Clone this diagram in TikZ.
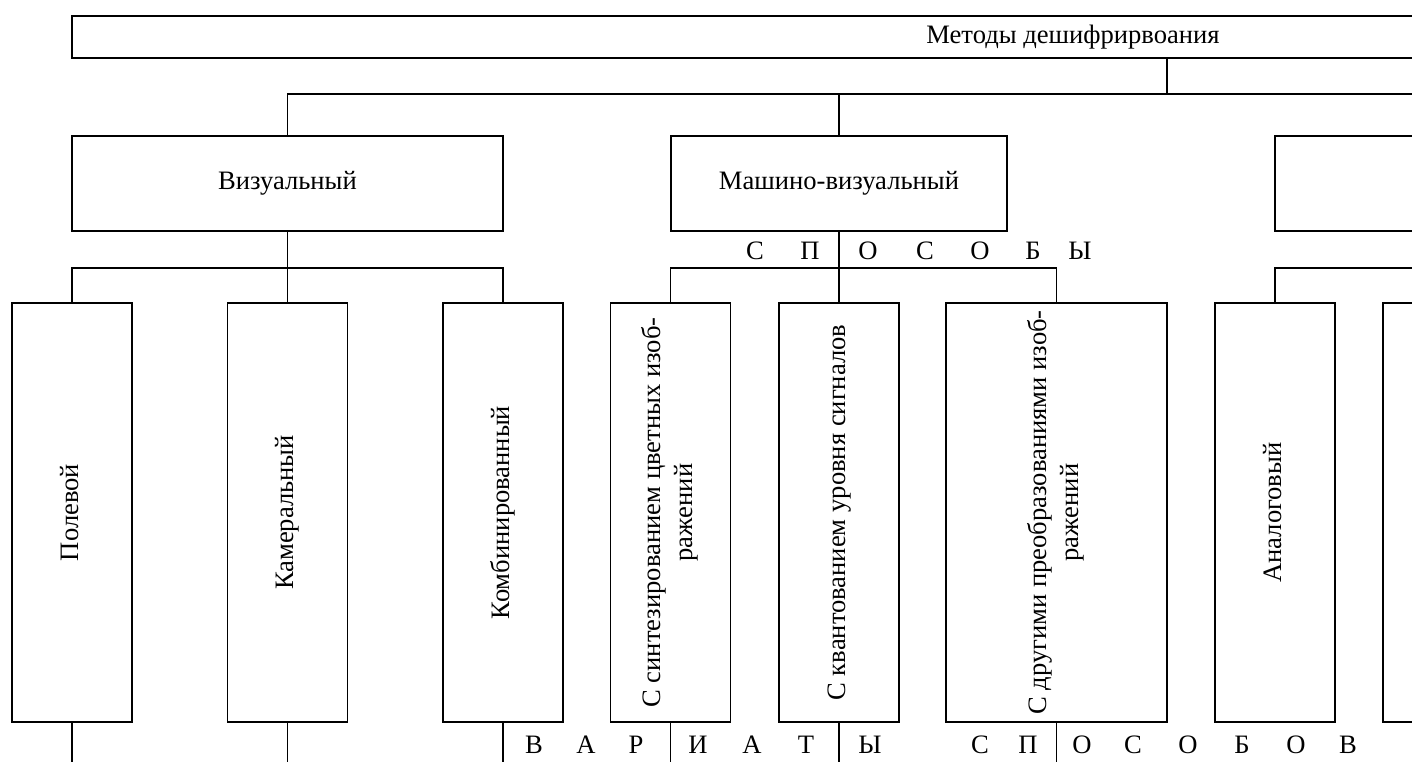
\documentclass[tikz,border=0pt]{standalone}
\usepackage{fontspec}
\setmainfont{Liberation Serif}
\usepackage{graphicx}

\newcommand{\vtext}[1]{\rotatebox{90}{\begin{tabular}{@{}c@{}}#1\end{tabular}}}

\begin{document}
\begin{tikzpicture}[x=0.5pt, y=-0.5pt, line width=0.75pt,
  font=\fontsize{13.3}{16}\selectfont,
  box/.style={draw, inner sep=0pt},
  midbox/.style={box, minimum width=168pt, minimum height=47.5pt},
  leaf/.style={box, minimum width=60pt, minimum height=209.5pt},
  letter/.style={inner sep=0pt}]
  \useasboundingbox (0,0) rectangle (1412,761);
  \clip (0,0) rectangle (1412,761);

  % top level
  \node[box, minimum width=1001pt, minimum height=21pt] (methods) at (1073,37) {Методы дешифрирвоания};

  % methods
  \node[midbox, minimum width=215.5pt] (vis) at (287.5,183.5) {Визуальный};
  \node[midbox] (mvis) at (839,183.5) {Машино-визуальный};
  \node[midbox] (third) at (1443,183.5) {};

  % variants
  \node[leaf] (pol) at (72,512.5) {\vtext{Полевой}};
  \node[leaf] (kam) at (287.5,512.5) {\vtext{Камеральный}};
  \node[leaf] (komb) at (503,512.5) {\vtext{Комбинированный}};
  \node[leaf] (sint) at (670.5,512.5) {\vtext{С синтезированием цветных изоб-\\ражений}};
  \node[leaf] (kvant) at (839,512.5) {\vtext{С квантованием уровня сигналов}};
  \node[leaf, minimum width=110.5pt] (drug) at (1056.5,512.5) {\vtext{С другими преобразованиями изоб-\\ражений}};
  \node[leaf] (analog) at (1275,512.5) {\vtext{Аналоговый}};
  \node[leaf] (next) at (1443,512.5) {};

  % joints
  \coordinate (j0) at (1167,94);
  \coordinate (jv) at (287.5,268);
  \coordinate (jm) at (839,268);
  \coordinate (jt) at (1443,268);
  \coordinate (bot) at (0,775);

  \draw (methods.south -| j0) -- (j0);
  \draw (vis.north) |- (third.north |- j0) -- (third.north);
  \draw (mvis.north) -- (mvis.north |- j0);
  \draw (vis.south) -- (kam.north);
  \draw (pol.north) |- (jv) -| (komb.north);
  \draw (mvis.south) -- (kvant.north);
  \draw (sint.north) |- (jm) -| (drug.north);
  \draw (third.south) -- (jt);
  \draw (analog.north) |- (jt) -- (next.north);
  \foreach \n in {pol,kam,komb,sint,kvant,drug}
    \draw (\n.south) -- (\n.south |- bot);

  % spaced words
  \foreach \x/\l [count=\i] in {755/С,810/П,868/О,925/С,980/О,1033/Б,1080/Ы}
    \node[letter] (s\i) at (\x,251) {\l};
  \foreach \x/\l [count=\i] in {534/В,586/А,636/Р,698/И,752/А,806/Т,870/Ы,
      980/С,1028/П,1082/О,1133/С,1188/О,1242/Б,1296/О,1348/В}
    \node[letter] (b\i) at (\x,745) {\l};
\end{tikzpicture}
\end{document}
